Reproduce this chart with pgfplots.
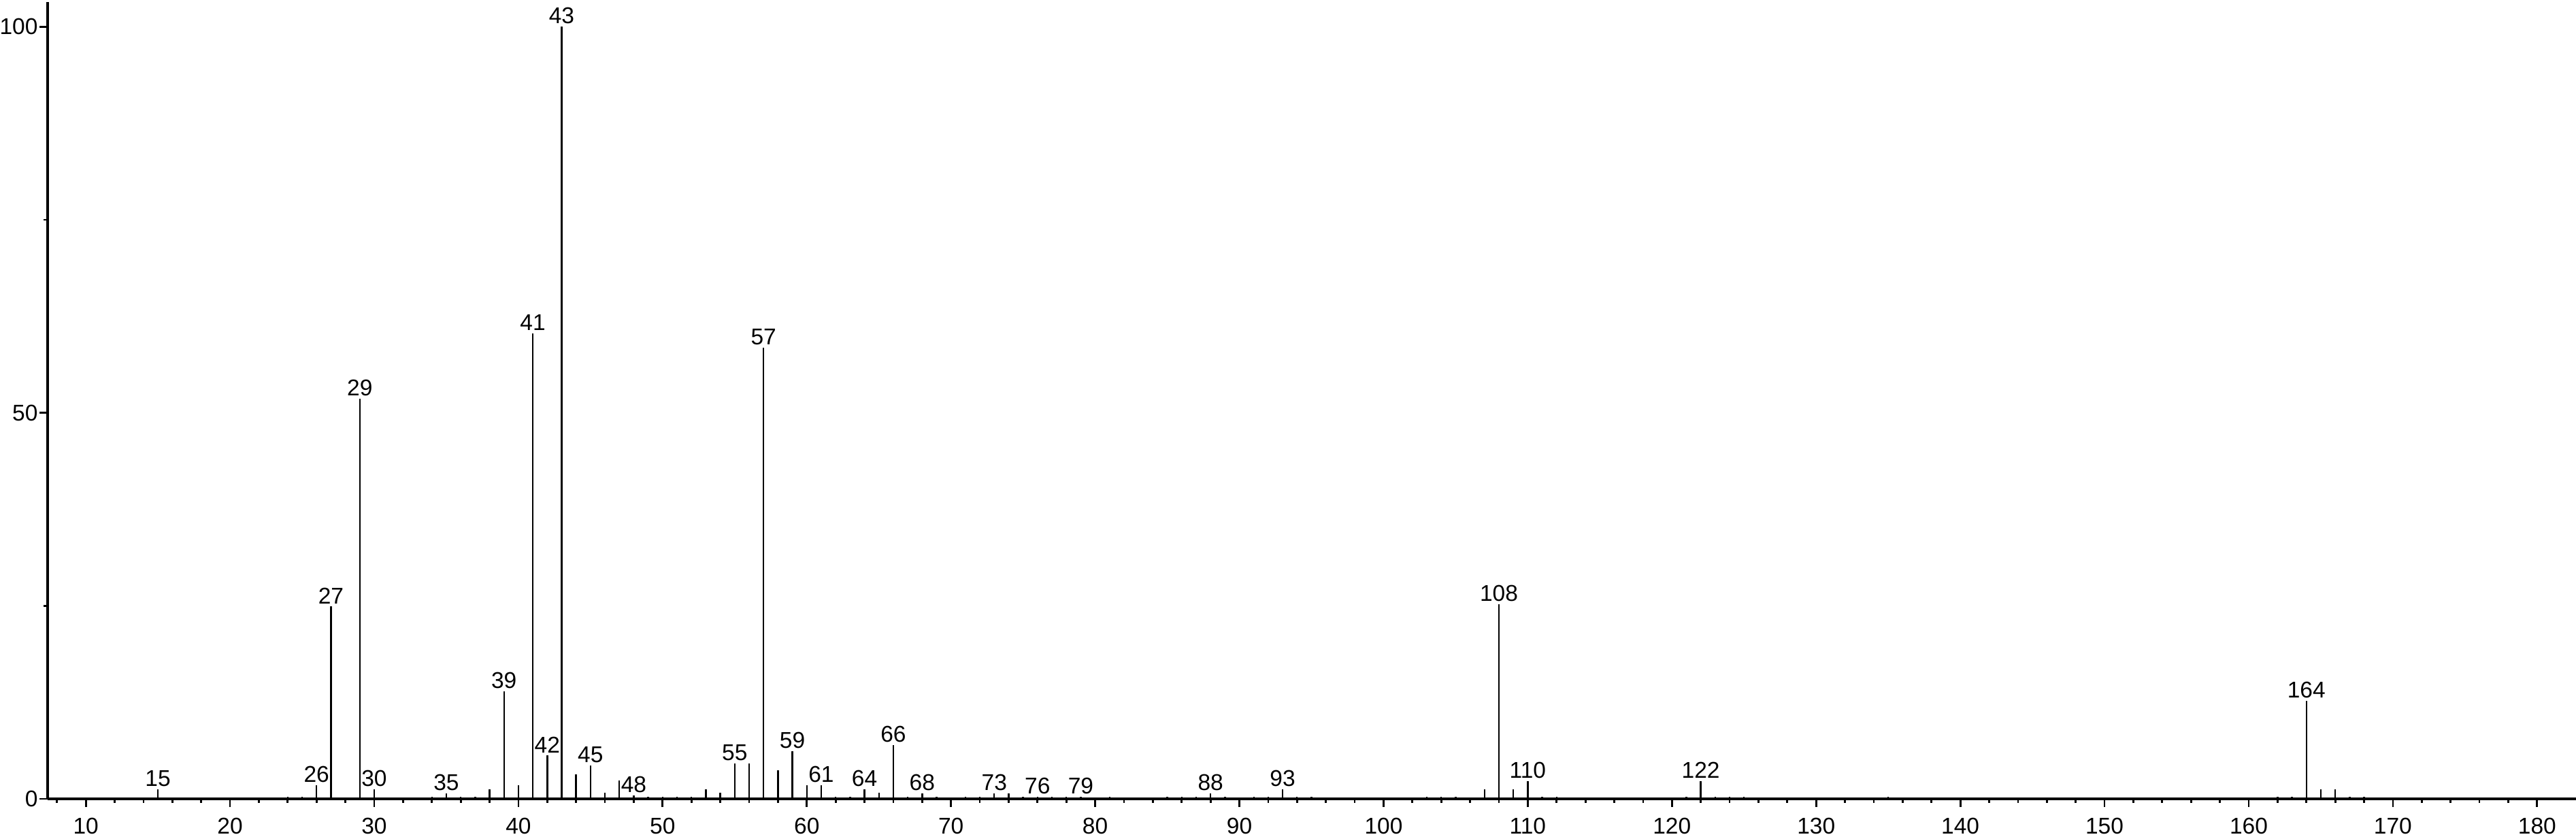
\documentclass[border=0pt]{standalone}
\usepackage{pgfplots}
\pgfplotsset{compat=1.18}
\usepackage{fontspec}
\setmainfont{Liberation Sans}
\begin{document}
\begin{tikzpicture}
\begin{axis}[
  scale only axis, width=743.2pt, height=234.2pt,
  xmin=7.35, xmax=182.7, ymin=0, ymax=103.2,
  axis x line=bottom, axis y line=left,
  axis line style={-, line width=0.65pt, black},
  xtick distance=10, minor x tick num=4,
  ytick={0,50,100}, minor ytick={25,75},
  tick align=outside,
  major tick length=2.3pt, minor tick length=1.2pt,
  tick style={line width=0.55pt, black},
  ticklabel style={font=\fontsize{6.7pt}{8pt}\selectfont},
  /pgf/number format/assume math mode=true,
  xticklabel style={inner ysep=1pt, yshift=-2.2pt},
  yticklabel style={inner xsep=0.4pt},
  clip=false,
  nodes near coords style={anchor=south, inner sep=0.6pt, font=\fontsize{6.7pt}{8pt}\selectfont},
]
\coordinate (bl) at (rel axis cs:0,0);
\coordinate (tr) at (rel axis cs:1,1);
% labelled peaks
\addplot[ycomb, black, line width=0.48pt, mark=none, nodes near coords, point meta=explicit symbolic]
 table[meta=label] {
x y label
15 1.2 15
26 1.8 26
27 24.9 27
29 51.8 29
30 1.2 30
35 0.7 35
39 13.9 39
41 60.3 41
42 5.6 42
43 100 43
45 4.3 45
48 0.4 48
55 4.6 55
57 58.4 57
59 6.2 59
61 1.8 61
64 1.2 64
66 7.0 66
68 0.7 68
73 0.7 73
76 0.3 76
79 0.3 79
88 0.7 88
93 1.2 93
108 25.2 108
110 2.3 110
122 2.3 122
164 12.7 164
};
% unlabelled peaks
\addplot[ycomb, black, line width=0.48pt, mark=none] table {
x y
24 0.3
25 0.3
31 0.2
33 0.2
34 0.3
36 0.3
37 0.3
38 1.2
40 1.8
44 3.2
46 0.8
47 2.4
49 0.3
50 0.3
51 0.3
52 0.3
53 1.2
54 0.8
56 4.6
58 3.7
60 1.8
62 0.3
63 0.3
65 0.8
67 0.3
69 0.3
71 0.3
72 0.3
74 0.7
75 0.3
77 0.3
78 0.3
81 0.3
85 0.3
86 0.3
87 0.3
89 0.3
91 0.3
92 0.3
94 0.3
95 0.3
103 0.3
104 0.3
105 0.3
107 1.2
109 1.2
111 0.3
112 0.3
121 0.3
123 0.3
124 0.3
125 0.3
135 0.3
162 0.3
163 0.3
165 1.2
166 1.2
167 0.3
168 0.3
};
\end{axis}
\pgfresetboundingbox
\useasboundingbox ([xshift=-14pt,yshift=-11.6pt]bl) rectangle ([yshift=0.6pt]tr);
\end{tikzpicture}
\end{document}
